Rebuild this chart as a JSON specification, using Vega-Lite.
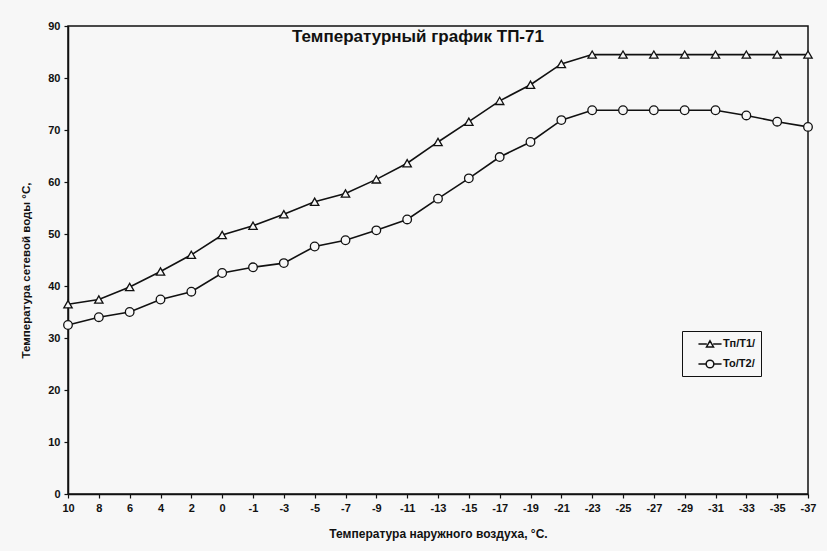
{
  "$schema": "https://vega.github.io/schema/vega-lite/v6.json",
  "width": 740,
  "height": 468,
  "autosize": {"type": "none"},
  "padding": {"left": 68, "top": 26, "right": 19, "bottom": 57},
  "background": "#f7f7f7",
  "config": {
    "font": "Liberation Sans",
    "view": {"stroke": "#111", "strokeWidth": 1.5},
    "axis": {"grid": false, "domainColor": "#111", "domainWidth": 1.5, "tickColor": "#111", "tickWidth": 1.2, "tickSize": 4,
      "labelFont": "Liberation Sans", "labelFontSize": 11, "labelFontWeight": "bold", "labelColor": "#111",
      "titleFont": "Liberation Sans", "titleFontSize": 11.5, "titleFontWeight": "bold", "titleColor": "#111"}
  },
  "title": {"text": "Температурный график ТП-71", "fontSize": 17, "fontWeight": "bold", "font": "Liberation Sans", "color": "#111", "anchor": "middle", "dx": -20, "dy": 23, "offset": -11, "baseline": "middle"},
  "data": {"values": [
    {"t": "10", "i": 0, "s": "Тп/Т1/", "v": 36.5},
    {"t": "8", "i": 1, "s": "Тп/Т1/", "v": 37.4},
    {"t": "6", "i": 2, "s": "Тп/Т1/", "v": 39.8},
    {"t": "4", "i": 3, "s": "Тп/Т1/", "v": 42.8},
    {"t": "2", "i": 4, "s": "Тп/Т1/", "v": 46},
    {"t": "0", "i": 5, "s": "Тп/Т1/", "v": 49.8},
    {"t": "-1", "i": 6, "s": "Тп/Т1/", "v": 51.6},
    {"t": "-3", "i": 7, "s": "Тп/Т1/", "v": 53.8},
    {"t": "-5", "i": 8, "s": "Тп/Т1/", "v": 56.2},
    {"t": "-7", "i": 9, "s": "Тп/Т1/", "v": 57.8},
    {"t": "-9", "i": 10, "s": "Тп/Т1/", "v": 60.5},
    {"t": "-11", "i": 11, "s": "Тп/Т1/", "v": 63.6},
    {"t": "-13", "i": 12, "s": "Тп/Т1/", "v": 67.7},
    {"t": "-15", "i": 13, "s": "Тп/Т1/", "v": 71.6},
    {"t": "-17", "i": 14, "s": "Тп/Т1/", "v": 75.6},
    {"t": "-19", "i": 15, "s": "Тп/Т1/", "v": 78.7},
    {"t": "-21", "i": 16, "s": "Тп/Т1/", "v": 82.7},
    {"t": "-23", "i": 17, "s": "Тп/Т1/", "v": 84.5},
    {"t": "-25", "i": 18, "s": "Тп/Т1/", "v": 84.5},
    {"t": "-27", "i": 19, "s": "Тп/Т1/", "v": 84.5},
    {"t": "-29", "i": 20, "s": "Тп/Т1/", "v": 84.5},
    {"t": "-31", "i": 21, "s": "Тп/Т1/", "v": 84.5},
    {"t": "-33", "i": 22, "s": "Тп/Т1/", "v": 84.5},
    {"t": "-35", "i": 23, "s": "Тп/Т1/", "v": 84.5},
    {"t": "-37", "i": 24, "s": "Тп/Т1/", "v": 84.5},
    {"t": "10", "i": 0, "s": "То/Т2/", "v": 32.5},
    {"t": "8", "i": 1, "s": "То/Т2/", "v": 34},
    {"t": "6", "i": 2, "s": "То/Т2/", "v": 35},
    {"t": "4", "i": 3, "s": "То/Т2/", "v": 37.4},
    {"t": "2", "i": 4, "s": "То/Т2/", "v": 38.9},
    {"t": "0", "i": 5, "s": "То/Т2/", "v": 42.5},
    {"t": "-1", "i": 6, "s": "То/Т2/", "v": 43.6},
    {"t": "-3", "i": 7, "s": "То/Т2/", "v": 44.4},
    {"t": "-5", "i": 8, "s": "То/Т2/", "v": 47.6},
    {"t": "-7", "i": 9, "s": "То/Т2/", "v": 48.8},
    {"t": "-9", "i": 10, "s": "То/Т2/", "v": 50.7},
    {"t": "-11", "i": 11, "s": "То/Т2/", "v": 52.8},
    {"t": "-13", "i": 12, "s": "То/Т2/", "v": 56.8},
    {"t": "-15", "i": 13, "s": "То/Т2/", "v": 60.7},
    {"t": "-17", "i": 14, "s": "То/Т2/", "v": 64.8},
    {"t": "-19", "i": 15, "s": "То/Т2/", "v": 67.7},
    {"t": "-21", "i": 16, "s": "То/Т2/", "v": 71.9},
    {"t": "-23", "i": 17, "s": "То/Т2/", "v": 73.8},
    {"t": "-25", "i": 18, "s": "То/Т2/", "v": 73.8},
    {"t": "-27", "i": 19, "s": "То/Т2/", "v": 73.8},
    {"t": "-29", "i": 20, "s": "То/Т2/", "v": 73.8},
    {"t": "-31", "i": 21, "s": "То/Т2/", "v": 73.8},
    {"t": "-33", "i": 22, "s": "То/Т2/", "v": 72.8},
    {"t": "-35", "i": 23, "s": "То/Т2/", "v": 71.6},
    {"t": "-37", "i": 24, "s": "То/Т2/", "v": 70.6}
  ]},
  "encoding": {
    "x": {"field": "t", "type": "ordinal", "sort": {"field": "i"},
      "scale": {"type": "point", "padding": 0},
      "axis": {"title": "Температура наружного воздуха, °С.", "labelAngle": 0, "labelPadding": 4, "labelOverlap": false, "titleY": 39, "titleBaseline": "middle", "titleFontSize": 12}},
    "y": {"field": "v", "type": "quantitative",
      "scale": {"domain": [0, 90], "nice": false, "zero": true},
      "axis": {"title": "Температура сетевой воды °С,", "values": [0, 10, 20, 30, 40, 50, 60, 70, 80, 90], "labelPadding": 4,
        "titleX": -42, "titleY": 244, "titleAngle": -90, "titleBaseline": "middle", "titleAlign": "center"}}
  },
  "layer": [
    {"mark": {"type": "line", "color": "#111", "strokeWidth": 1.6},
      "encoding": {"detail": {"field": "s"}}},
    {"transform": [{"filter": "datum.s == 'Тп/Т1/'"}],
      "mark": {"type": "point", "shape": "triangle-up", "filled": true, "fill": "#f7f7f7", "stroke": "#111", "strokeWidth": 1.3, "size": 70, "opacity": 1}},
    {"transform": [{"filter": "datum.s == 'То/Т2/'"}],
      "mark": {"type": "point", "shape": "circle", "filled": true, "fill": "#f7f7f7", "stroke": "#111", "strokeWidth": 1.3, "size": 74, "opacity": 1}},
    {"mark": {"type": "point", "filled": true, "fill": "#f7f7f7", "stroke": "#111", "strokeWidth": 1.3, "opacity": 0, "size": 10},
      "encoding": {"shape": {"field": "s", "type": "nominal",
        "scale": {"domain": ["Тп/Т1/", "То/Т2/"], "range": [
          "M-1.65,0H-0.45M0.45,0H1.65M0,-0.45L0.5,0.42L-0.5,0.42Z",
          "M-1.65,0H-0.55M0.55,0H1.65M0.55,0A0.55,0.55 0 1,1 -0.55,0A0.55,0.55 0 1,1 0.55,0Z"]},
        "legend": {"title": null, "orient": "none", "legendX": 614, "legendY": 305, "padding": 5,
          "strokeColor": "#111", "fillColor": "#f7f7f7", "symbolSize": 196, "symbolOffset": 15,
          "labelFont": "Liberation Sans", "labelFontSize": 11, "labelFontWeight": "bold", "labelColor": "#111",
          "labelOffset": 5, "rowPadding": 6, "labelExpr": "datum.label + '\u00a0\u00a0\u00a0\u00a0\u00a0\u00a0\u00a0\u00a0\u00a0\u00a0\u00a0\u00a0'",
          "encode": {"symbols": {"update": {"opacity": {"value": 1}, "fillOpacity": {"value": 1}, "strokeOpacity": {"value": 1},
            "fill": {"value": "#f7f7f7"}, "stroke": {"value": "#111"}, "strokeWidth": {"value": 1.3}}}}}}}}
  ]
}
